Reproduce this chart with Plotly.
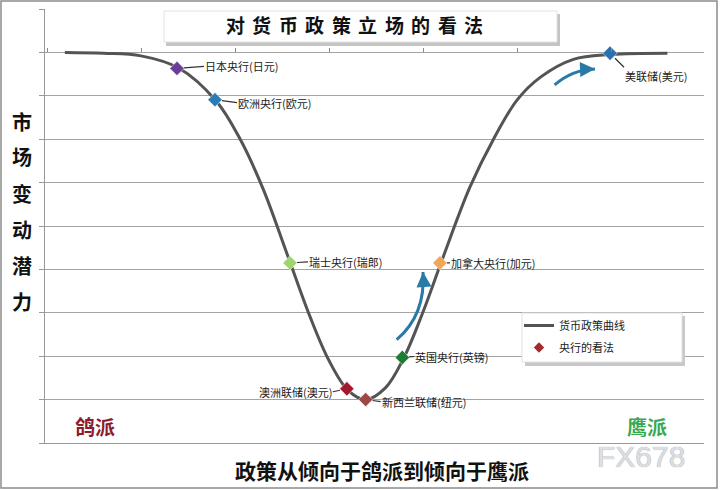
import plotly.graph_objects as go

# ---------------- data ----------------
curve_x = [0.19, 0.6, 1.0, 1.4, 1.8, 2.05, 2.3, 2.55, 2.8, 3.0, 3.2, 3.39,
           3.6, 3.8, 4.0, 4.2, 4.5, 4.75, 5.0, 5.25, 5.6, 6.0, 6.6]
curve_y = [9.0, 8.98, 8.92, 8.64, 7.88, 7.02, 5.85, 4.38, 2.9, 1.9, 1.22, 1.0,
           1.27, 1.98, 3.02, 4.2, 5.9, 7.0, 7.9, 8.43, 8.84, 8.95, 8.98]

bank_names = ["日本央行(日元)", "欧洲央行(欧元)", "瑞士央行(瑞郎)", "澳洲联储(澳元)",
              "新西兰联储(纽元)", "英国央行(英镑)", "加拿大央行(加元)", "美联储(美元)"]
bank_x = [1.383, 1.787, 2.585, 3.19, 3.39, 3.78, 4.18, 5.99]
bank_y = [8.63, 7.91, 4.15, 1.25, 1.0, 1.97, 4.15, 8.98]
bank_colors = ["#6a3d9a", "#2b7bb9", "#9fd472", "#a3192b",
               "#9e4848", "#1e7b32", "#f2a65a", "#2a6fae"]
# label offsets (px) and anchors
label_ax = [27, 22, 18, -14, 15, 12, 10, 14]
label_ay = [-2, 3, -1, 3, 2, -1, 0, 14]
label_xanchor = ["left", "left", "left", "right", "left", "left", "left", "left"]
label_yanchor = ["middle", "middle", "middle", "middle", "middle", "middle", "middle", "top"]

legend_line_name = "货币政策曲线"
legend_point_name = "央行的看法"

title_text = "对货币政策立场的看法"
ytitle_chars = list("市场变动潜力")
xtitle_text = "政策从倾向于鸽派到倾向于鹰派"
dove_text = "鸽派"
hawk_text = "鹰派"
watermark = "FX678"

# decorative arrows (tail, control, tip) in data units
arrow1 = [(3.72, 2.38), (4.03, 2.95), (4.0, 3.94)]
arrow2 = [(5.40, 8.25), (5.58, 8.60), (5.83, 8.62)]

# ---------------- layout helpers ----------------
L, R, T, B = 45, 16, 9, 47
W, H = 720, 490
PW, PH = W - L - R, H - T - B


def px_x(p):
    return (p - L) / PW


def px_y(p):
    return (H - B - p) / PH


CJK = "Noto Sans CJK SC"

fig = go.Figure()

fig.add_trace(go.Scatter(
    x=curve_x, y=curve_y, mode="lines", name=legend_line_name,
    line=dict(color="#545454", width=3, shape="spline", smoothing=1.0),
    legendgroup="a", hoverinfo="skip"))

fig.add_trace(go.Scatter(
    x=bank_x, y=bank_y, mode="markers", showlegend=False,
    marker=dict(symbol="diamond", size=11, color=bank_colors,
                line=dict(color="rgba(255,255,255,0.5)", width=1)),
    text=bank_names, hoverinfo="text"))

# legend proxy for points
fig.add_trace(go.Scatter(
    x=[None], y=[None], mode="markers", name=legend_point_name,
    marker=dict(symbol="diamond", size=8, color="#a52a2a"),
    legendgroup="b"))

annotations = []
for name, x, y, ax, ay, xa, ya in zip(bank_names, bank_x, bank_y, label_ax,
                                      label_ay, label_xanchor, label_yanchor):
    annotations.append(dict(
        x=x, y=y, xref="x", yref="y", text=name, showarrow=True,
        ax=ax, ay=ay, axref="pixel", ayref="pixel",
        xanchor=xa, yanchor=ya, arrowhead=0, arrowwidth=1.2,
        arrowcolor="#333333", standoff=7, borderpad=0,
        font=dict(family=CJK, size=11, color="#1a1a1a")))

# arrowheads for decorative arrows
for arr in (arrow1, arrow2):
    (cx, cy), (tx, ty) = arr[1], arr[2]
    annotations.append(dict(
        x=tx, y=ty, xref="x", yref="y", ax=tx - (tx - cx) * 0.35,
        ay=ty - (ty - cy) * 0.35, axref="x", ayref="y", text="",
        showarrow=True, arrowhead=2, arrowsize=1.0, arrowwidth=3,
        arrowcolor="#2a7aa6"))


def paper_text(px, py, text, size, color, family=CJK, weight="bold", **kw):
    return dict(x=px_x(px), y=px_y(py), xref="paper", yref="paper",
                xanchor="center", yanchor="middle", text=text,
                showarrow=False,
                font=dict(family=family, size=size, color=color,
                          weight=weight, **kw))


# spaced-out title, one glyph at a time
for i, ch in enumerate(title_text):
    annotations.append(paper_text(235 + 26.5 * i, 25, ch, 19, "#111111"))
for i, ch in enumerate(ytitle_chars):
    annotations.append(paper_text(22, 121 + 36 * i, ch, 20, "#111111"))
annotations.append(paper_text(382, 470, xtitle_text, 21, "#111111"))
annotations.append(paper_text(95, 426, dove_text, 20, "#8c1c2e"))
annotations.append(paper_text(647, 426, hawk_text, 20, "#39a852"))
annotations.append(paper_text(641, 456, watermark, 30, "#dcdfe3",
                              family="Liberation Sans", weight="normal",
                              shadow="0px 0px 1px #80868e"))

shapes = []
# title box with shadow
shapes.append(dict(type="rect", xref="paper", yref="paper",
                   x0=px_x(166), x1=px_x(560), y0=px_y(46), y1=px_y(14),
                   fillcolor="#c4c4c4", line=dict(width=0), layer="above"))
shapes.append(dict(type="rect", xref="paper", yref="paper",
                   x0=px_x(164), x1=px_x(557), y0=px_y(42), y1=px_y(11),
                   fillcolor="white", line=dict(color="#e2e2e2", width=1),
                   layer="above"))
# legend box with shadow
shapes.append(dict(type="rect", xref="paper", yref="paper",
                   x0=px_x(525), x1=px_x(685), y0=px_y(366), y1=px_y(316),
                   fillcolor="#c8c8c8", line=dict(width=0), layer="above"))
shapes.append(dict(type="rect", xref="paper", yref="paper",
                   x0=px_x(522), x1=px_x(682), y0=px_y(362), y1=px_y(313),
                   fillcolor="white", line=dict(color="#e0e0e0", width=1),
                   layer="above"))
# decorative curved arrow bodies
for arr in (arrow1, arrow2):
    (x0, y0), (cx, cy), (tx, ty) = arr
    shapes.append(dict(type="path", xref="x", yref="y",
                       path=f"M {x0},{y0} Q {cx},{cy} {tx},{ty}",
                       line=dict(color="#2a7aa6", width=3), layer="above"))
# outer frame
shapes.append(dict(type="rect", xref="paper", yref="paper",
                   x0=px_x(1), x1=px_x(717), y0=px_y(488), y1=px_y(1),
                   line=dict(color="#8c8c8c", width=1.5), layer="above"))

fig.update_layout(
    width=W, height=H,
    margin=dict(l=L, r=R, t=T, b=B),
    paper_bgcolor="white", plot_bgcolor="white",
    xaxis=dict(range=[(L - 47) / 94, (W - R - 47) / 94], showgrid=False,
               zeroline=False, showticklabels=False, ticks="",
               showline=True, linecolor="#999999", linewidth=1,
               fixedrange=True),
    xaxis2=dict(range=[(L - 47) / 94, (W - R - 47) / 94], overlaying="x",
                anchor="free", position=0.9, side="top", dtick=1, tick0=0,
                ticks="outside", ticklen=4, tickcolor="#888888",
                showticklabels=False, showgrid=False, zeroline=False,
                showline=False),
    yaxis=dict(range=[0, 10], dtick=1, showgrid=True, gridcolor="#a3a3a3",
               gridwidth=1, zeroline=False, showticklabels=False,
               ticks="outside", ticklen=5, tickcolor="#999999",
               showline=True, linecolor="#999999", linewidth=1,
               fixedrange=True),
    legend=dict(x=px_x(519), y=px_y(311), xanchor="left", yanchor="top",
                bgcolor="rgba(0,0,0,0)", borderwidth=0,
                font=dict(family=CJK, size=11, color="#1a1a1a"),
                tracegroupgap=3, traceorder="grouped"),
    annotations=annotations, shapes=shapes, showlegend=True,
)
# dummy trace to activate xaxis2 ticks
fig.add_trace(go.Scatter(x=[None], y=[None], xaxis="x2", showlegend=False))

fig.write_html("out.html",
               config={"displayModeBar": False},
               post_script="document.body.style.margin='0';"
                           "document.body.style.padding='0';")
